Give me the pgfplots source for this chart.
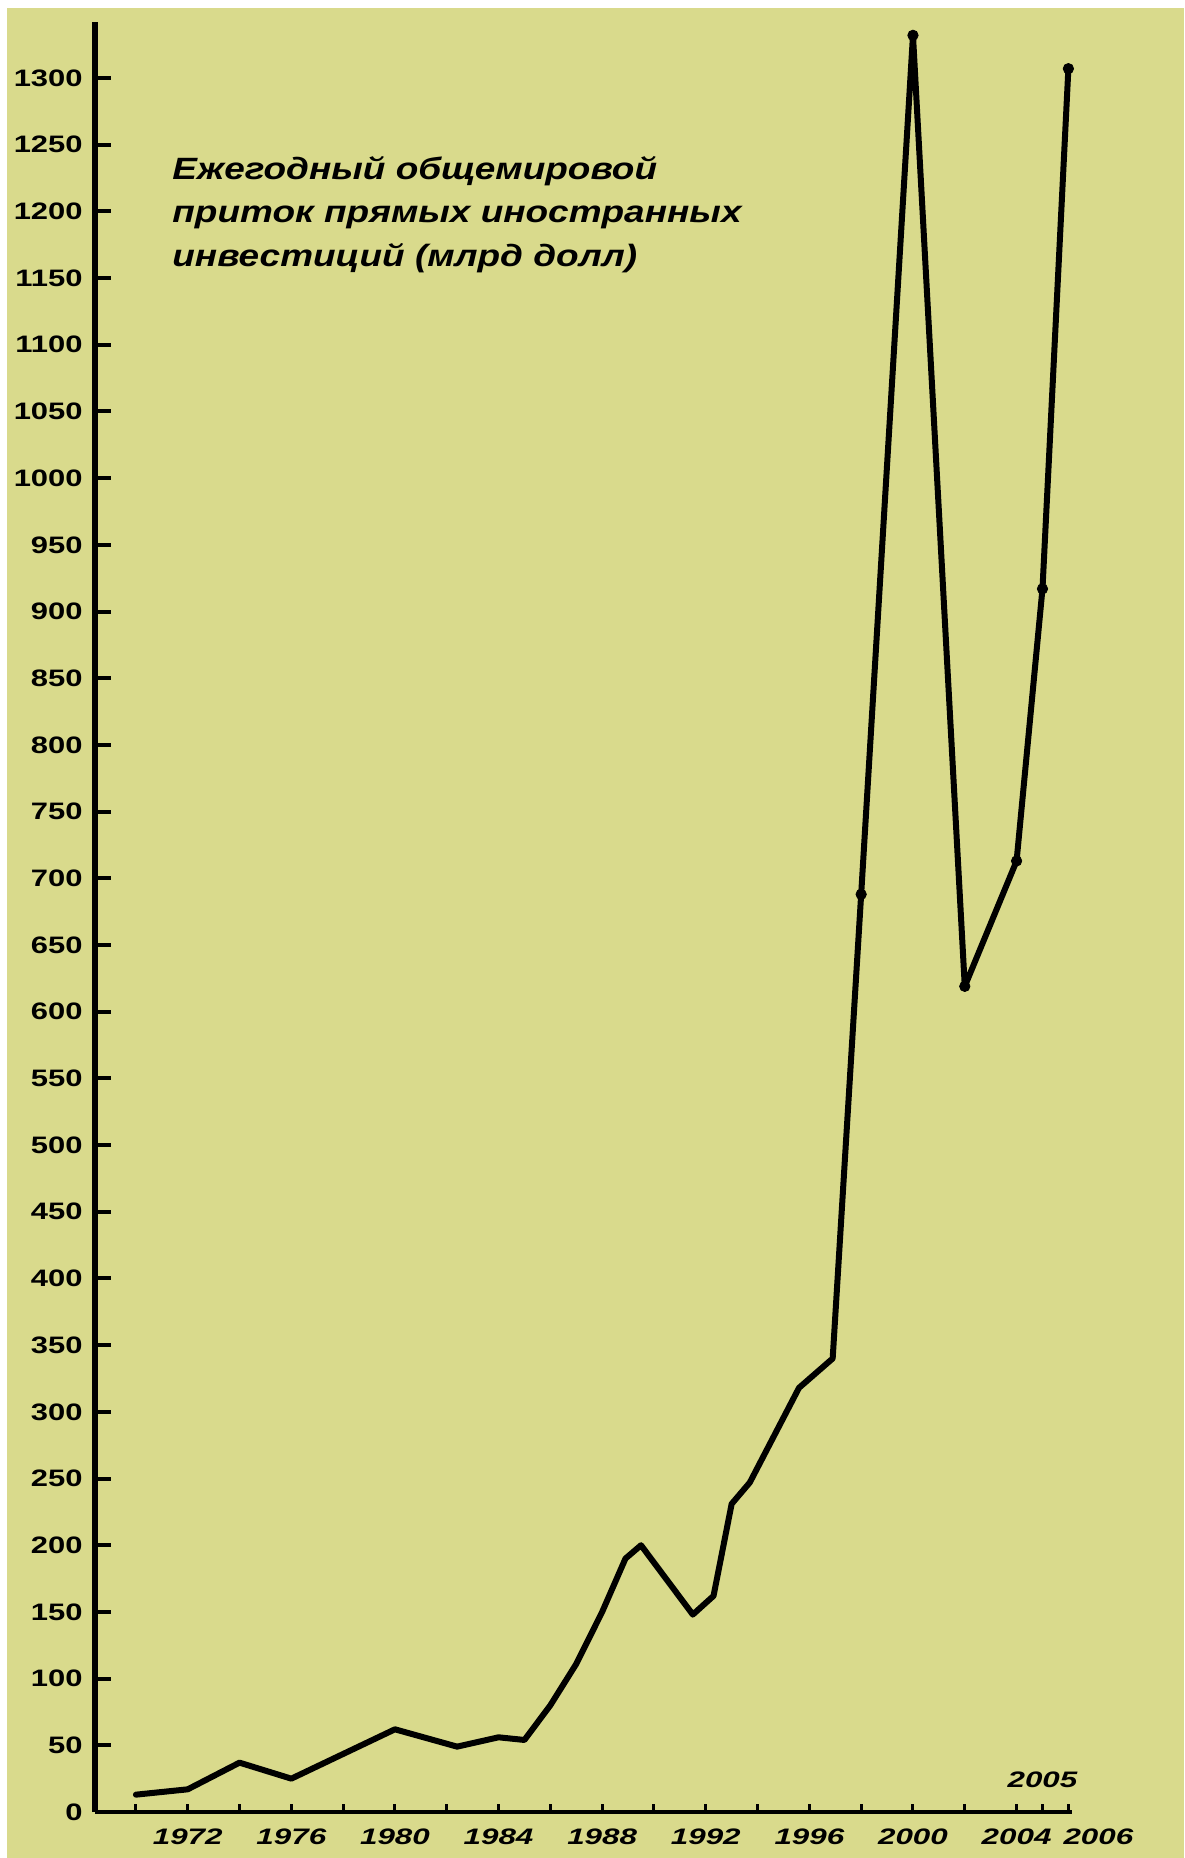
\documentclass[border=0pt]{standalone}
\usepackage{pgfplots}
\pgfplotsset{compat=1.18}
\usepackage{fontspec}
\setmainfont{Liberation Sans}
\newfontfamily\tickfont[FakeStretch=1.3]{Liberation Sans}
\newfontfamily\xtickfont[FakeStretch=1.4]{Liberation Sans}
\newfontfamily\titlefont[FakeStretch=1.2]{Liberation Sans}
\definecolor{bg}{RGB}{217,218,140}

\begin{document}
\begin{tikzpicture}[x=1pt,y=1pt]
% background, 1 px of the reference = 0.5pt
\fill[white] (0,0) rectangle (592,929);
\fill[bg] (3.5,0) rectangle (592,925);
\begin{axis}[
    at={(47.5pt,23pt)}, anchor=south west,
    scale only axis,
    width=488.5pt, height=895pt,
    xmin=1968.42, xmax=2006.14,
    ymin=0, ymax=1342,
    axis x line*=bottom, axis y line*=left,
    x axis line style={line width=2pt},
    y axis line style={line width=2.8pt},
    tick align=inside,
    major tick length=8pt,
    minor tick length=4pt,
    ytick={0,50,...,1300},
    ytick style={line width=2pt, black},
    yticklabel style={font=\tickfont\bfseries\fontsize{11.9}{14}\selectfont, inner sep=0pt, xshift=-6pt},
    /pgf/number format/1000 sep={},
    /pgf/number format/assume math mode=true,
    xtick={1972,1976,...,2004},
    xticklabels={1972,1976,1980,1984,1988,1992,1996,2000,2004},
    major x tick style={draw=none},
    minor xtick={1970,1972,...,2004,2005,2006},
    minor x tick style={line width=1.5pt, black},
    xticklabel style={font=\xtickfont\bfseries\itshape\fontsize{11.2}{14}\selectfont, inner sep=0pt, yshift=-8pt},
    extra x ticks={2006},
    extra x tick labels={2006},
    extra x tick style={major x tick style={draw=none}, xticklabel style={xshift=15pt}},
    clip=false,
]
% annual inflow
\addplot[black, line width=3pt, line join=round, line cap=round] coordinates {
    (1970, 13) (1972, 17) (1974, 37) (1976, 25) (1980, 62)
    (1982.4, 49) (1984, 56) (1985, 54) (1986, 80) (1987, 111)
    (1988, 150) (1988.9, 190) (1989.5, 200) (1991.5, 148) (1992.3, 162)
    (1993.0, 231) (1993.7, 247) (1995.6, 318) (1996.9, 340) (1998, 688)
    (2000, 1332) (2002, 619) (2004, 713) (2005, 917) (2006, 1307)
};
\addplot[only marks, mark=*, mark size=2.6pt, black] coordinates {
    (1998, 688) (2000, 1332) (2002, 619) (2004, 713) (2005, 917) (2006, 1307)
};
\node[anchor=south, inner sep=0pt, font=\xtickfont\bfseries\itshape\fontsize{11.2}{14}\selectfont]
    at (axis cs:2005,0) [yshift=12pt] {2005};
\end{axis}
\node[anchor=north west, align=left, inner sep=0pt,
      font=\titlefont\bfseries\itshape\fontsize{15.4}{21.75}\selectfont]
    at (86,851) {Ежегодный общемировой\\приток прямых иностранных\\инвестиций (млрд долл)};
\end{tikzpicture}
\end{document}
